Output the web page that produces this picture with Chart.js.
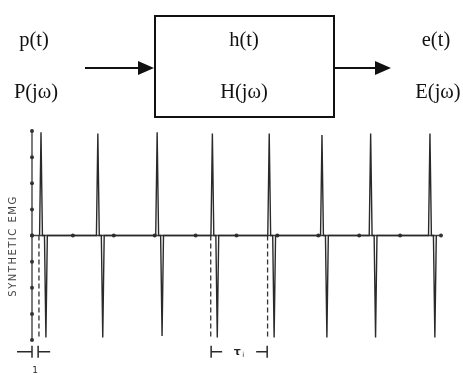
<!DOCTYPE html>
<html>
<head>
<meta charset="utf-8">
<script src="https://cdn.jsdelivr.net/npm/chart.js@4.4.1/dist/chart.umd.min.js"></script>
<style>
  html, body { margin: 0; padding: 0; background: #fff; }
  #wrap { position: relative; width: 463px; height: 375px; overflow: hidden; }
  #chartBox { position: absolute; left: 0; top: 0; width: 463px; height: 375px; }
  #diagram { position: absolute; left: 0; top: 0; }
</style>
</head>
<body>
<div id="wrap">
  <div id="chartBox"><canvas id="emgChart"></canvas></div>
  <svg id="diagram" width="463" height="125" font-family="'Liberation Serif', 'Times New Roman', serif" font-size="20.5" fill="#111">
    <rect x="155" y="16" width="179" height="101" fill="none" stroke="#111" stroke-width="2"/>
    <line x1="85" y1="68" x2="140" y2="68" stroke="#111" stroke-width="2"/>
    <polygon points="138,61 154,68 138,75"/>
    <line x1="335" y1="68" x2="377" y2="68" stroke="#111" stroke-width="2"/>
    <polygon points="375,61 391,68 375,75"/>
    <text x="34" y="46" text-anchor="middle">p(t)</text>
    <text x="36" y="98" text-anchor="middle">P(jω)</text>
    <text x="244" y="46" text-anchor="middle">h(t)</text>
    <text x="244" y="98" text-anchor="middle">H(jω)</text>
    <text x="436" y="46" text-anchor="middle">e(t)</text>
    <text x="438" y="98" text-anchor="middle">E(jω)</text>
  </svg>
</div>
<script>
// firing instants (x units, one unit per axis dot) and spike amplitudes
const firingTimes = [0.22, 1.61, 3.06, 4.41, 5.80, 7.09, 8.28, 9.73]
const posPeaks = [3.95, 3.9, 3.95, 3.9, 3.9, 3.85, 3.9, 3.9]
const negPeaks = [-3.9, -3.9, -3.85, -3.9, -3.9, -3.9, -3.9, -3.9]

// axis dots
const xTicks = [0, 1, 2, 3, 4, 5, 6, 7, 8, 9, 10]
const yTicks = [-4, -3, -2, -1, 0, 1, 2, 3, 4]

// dashed markers and the interval brackets under the trace
const dashedMarks = [0.17, 4.37, 5.76]
const dashedDepth = -3.9
const bracketStarts = [0, 4.38]
const bracketEnds = [0.15, 5.75]
const bracketLabels = ['1', 'τ']
const bracketInside = [false, true]

const ink = '#2a2a2a'
const halfWidth = 0.035  // half base of one phase of a spike
const negShift = 0.12    // negative phase follows the positive one

const spikePoints = []
firingTimes.forEach(function(t, i) {
    spikePoints.push({x: t - halfWidth, y: 0})
    spikePoints.push({x: t, y: posPeaks[i]})
    spikePoints.push({x: t + halfWidth, y: 0})
    spikePoints.push({x: t + negShift - halfWidth, y: 0})
    spikePoints.push({x: t + negShift, y: negPeaks[i]})
    spikePoints.push({x: t + negShift + halfWidth, y: 0})
})

const dashedPoints = []
dashedMarks.forEach(function(m) {
    dashedPoints.push({x: m, y: 0})
    dashedPoints.push({x: m, y: dashedDepth})
    dashedPoints.push({x: m, y: null})
})

const xAxisPoints = xTicks.map(v => ({x: v, y: 0}))
const yAxisPoints = yTicks.map(v => ({x: 0, y: v}))

const annotations = {
    id: 'annotations',
    afterDraw(chart) {
        const ctx = chart.ctx
        const xs = chart.scales.x
        const ys = chart.scales.y
        ctx.save()

        // y axis title
        ctx.fillStyle = '#444'
        ctx.font = '10px "DejaVu Sans", sans-serif'
        ctx.textAlign = 'center'
        ctx.textBaseline = 'middle'
        ctx.translate(13, 246)
        ctx.rotate(-Math.PI / 2)
        if ('letterSpacing' in ctx) ctx.letterSpacing = '1.5px'
        ctx.fillText('SYNTHETIC EMG', 0, 0)
        ctx.restore()

        ctx.save()
        ctx.strokeStyle = ink
        ctx.fillStyle = ink
        ctx.lineWidth = 1.5
        const rowY = ys.getPixelForValue(-4.45)
        bracketStarts.forEach(function(s, i) {
            const a = xs.getPixelForValue(s)
            const b = xs.getPixelForValue(bracketEnds[i])
            ctx.beginPath()
            ctx.moveTo(a, rowY - 6); ctx.lineTo(a, rowY + 6)
            ctx.moveTo(b, rowY - 6); ctx.lineTo(b, rowY + 6)
            if (bracketInside[i]) {
                ctx.moveTo(a, rowY); ctx.lineTo(a + 11, rowY)
                ctx.moveTo(b, rowY); ctx.lineTo(b - 11, rowY)
            } else {
                ctx.moveTo(a, rowY); ctx.lineTo(a - 15, rowY)
                ctx.moveTo(b, rowY); ctx.lineTo(b + 12, rowY)
            }
            ctx.stroke()
            ctx.textAlign = 'center'
            ctx.textBaseline = 'middle'
            if (bracketInside[i]) {
                const mid = (a + b) / 2
                ctx.font = 'bold 11px "DejaVu Sans", sans-serif'
                ctx.fillText(bracketLabels[i], mid - 2, rowY)
                ctx.font = '7px "DejaVu Sans", sans-serif'
                ctx.fillText('i', mid + 4, rowY + 3)
            } else {
                ctx.font = '9px "DejaVu Sans", sans-serif'
                ctx.fillText(bracketLabels[i], (a + b) / 2, rowY + 19)
            }
        })
        ctx.restore()
    }
}

new Chart(document.getElementById('emgChart'), {
    type: 'line',
    data: {
        datasets: [
            {
                label: 'synthetic EMG',
                data: spikePoints,
                borderColor: ink,
                borderWidth: 1.4,
                pointRadius: 0,
                tension: 0
            },
            {
                label: 'markers',
                data: dashedPoints,
                borderColor: '#333',
                borderWidth: 1.3,
                borderDash: [5, 3],
                pointRadius: 0,
                spanGaps: false
            },
            {
                label: 'time axis',
                data: xAxisPoints,
                borderColor: '#444',
                borderWidth: 1.4,
                pointRadius: 2,
                pointBackgroundColor: '#333',
                pointBorderWidth: 0,
                clip: false
            },
            {
                label: 'amplitude axis',
                data: yAxisPoints,
                borderColor: '#444',
                borderWidth: 1.4,
                pointRadius: 2,
                pointBackgroundColor: '#333',
                pointBorderWidth: 0,
                clip: false
            }
        ]
    },
    options: {
        responsive: true,
        maintainAspectRatio: false,
        animation: false,
        layout: {padding: {left: 32, right: 22, top: 131, bottom: 35}},
        scales: {
            x: {type: 'linear', min: 0, max: 10, display: false},
            y: {type: 'linear', min: -4, max: 4, display: false}
        },
        plugins: {
            legend: {display: false},
            tooltip: {enabled: false}
        }
    },
    plugins: [annotations]
})
</script>
</body>
</html>
